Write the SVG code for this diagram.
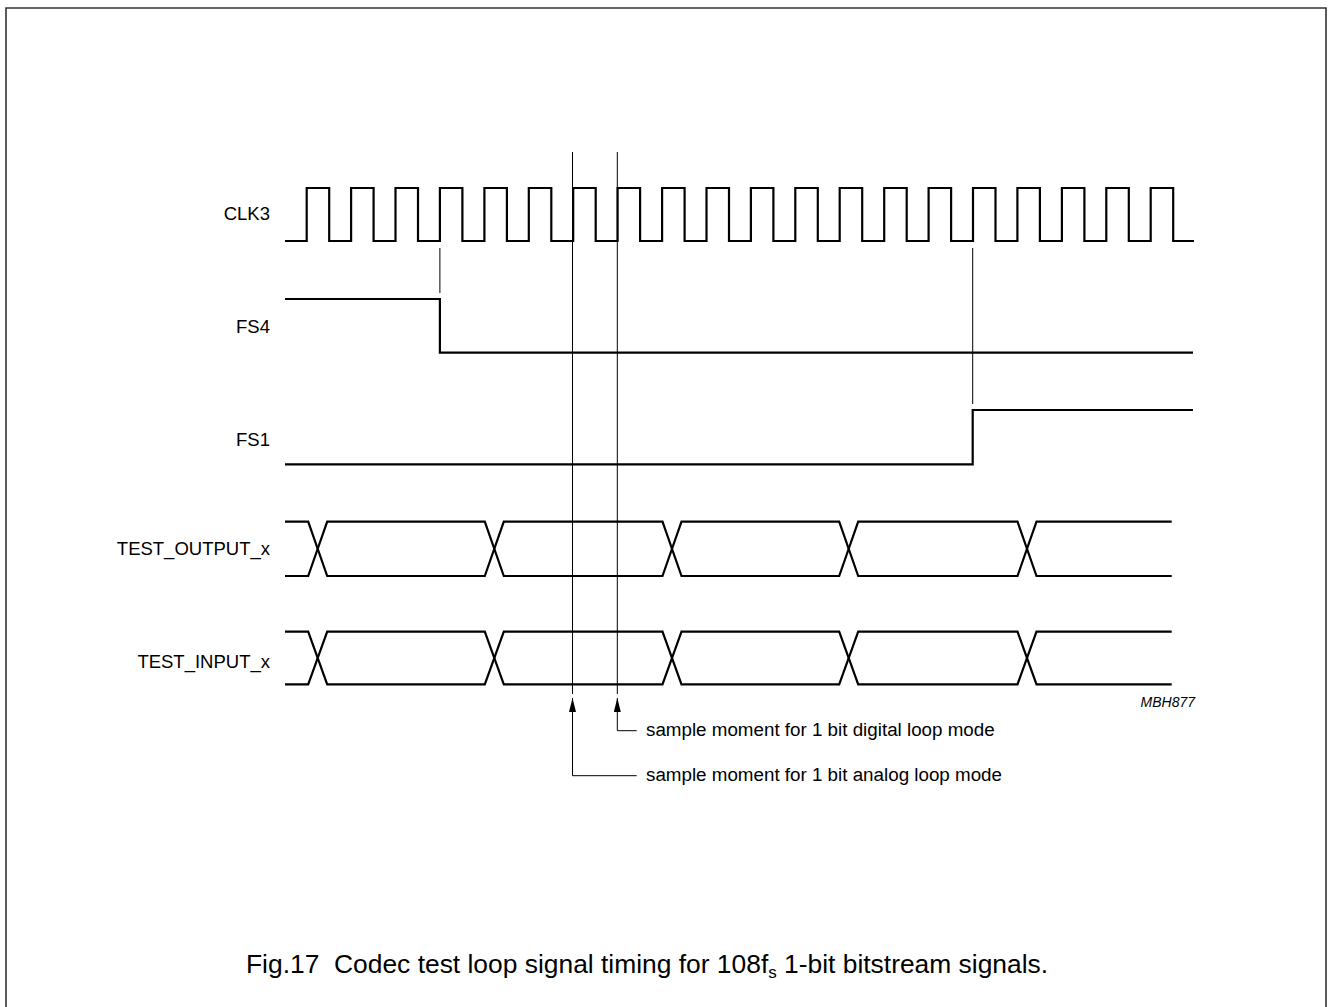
<svg xmlns="http://www.w3.org/2000/svg" width="1330" height="1007" viewBox="0 0 1330 1007">
<defs>
<style>
text{font-family:"Liberation Sans",Arial,sans-serif;fill:#000}
.lbl{font-size:18.5px;text-anchor:end}
.note{font-size:18.8px}
.sig{fill:none;stroke:#000;stroke-width:2.2;stroke-linejoin:miter}
.thin{fill:none;stroke:#000;stroke-width:1}
</style>
<marker id="arr" viewBox="0 0 10 10" refX="10" refY="5" markerWidth="14" markerHeight="7" preserveAspectRatio="none" markerUnits="userSpaceOnUse" orient="auto">
<path d="M0,0 L10,5 L0,10 Z" fill="#000"/>
</marker>
</defs>
<rect width="1330" height="1007" fill="#fff"/>
<path d="M6,1012 V8 H1326 V1012" fill="none" stroke="#333" stroke-width="1.6"/>

<g id="labels">
<text class="lbl" x="270" y="219.5">CLK3</text>
<text class="lbl" x="270" y="333">FS4</text>
<text class="lbl" x="270" y="445.5">FS1</text>
<text class="lbl" x="270" y="555">TEST_OUTPUT_x</text>
<text class="lbl" x="270" y="668">TEST_INPUT_x</text>
</g>

<g id="clk3">
<path class="sig" d="M285,241 H306.7 V188 H329.2 V241 H351.1 V188 H373.6 V241 H395.5 V188 H418 V241 H439.9 V188 H462.4 V241 H484.4 V188 H506.9 V241 H528.8 V188 H551.3 V241 H573.2 V188 H595.7 V241 H617.6 V188 H640.1 V241 H662.1 V188 H684.6 V241 H706.5 V188 H729 V241 H750.9 V188 H773.4 V241 H795.3 V188 H817.8 V241 H839.7 V188 H862.2 V241 H884.2 V188 H906.7 V241 H928.6 V188 H951.1 V241 H973 V188 H995.5 V241 H1017.4 V188 H1039.9 V241 H1061.9 V188 H1084.4 V241 H1106.3 V188 H1128.8 V241 H1150.7 V188 H1173.2 V241 H1194"/>
</g>

<g id="fs4">
<path class="sig" d="M285,299 H439.9 V352.7 H1193"/>
</g>

<g id="fs1">
<path class="sig" d="M285,464.3 H972.7 V410 H1193"/>
</g>

<g id="test_output">
<path class="sig" d="M285,521.7 H308.2 L327.2,576 H484.8 L503.8,521.7 H662.5 L681.5,576 H839.2 L858.2,521.7 H1017.5 L1036.5,576 H1171.7"/>
<path class="sig" d="M285,576 H308.2 L327.2,521.7 H484.8 L503.8,576 H662.5 L681.5,521.7 H839.2 L858.2,576 H1017.5 L1036.5,521.7 H1171.7"/>
</g>

<g id="test_input">
<path class="sig" d="M285,631.7 H308.2 L327.2,684.3 H484.8 L503.8,631.7 H662.5 L681.5,684.3 H839.2 L858.2,631.7 H1017.5 L1036.5,684.3 H1171.7"/>
<path class="sig" d="M285,684.3 H308.2 L327.2,631.7 H484.8 L503.8,684.3 H662.5 L681.5,631.7 H839.2 L858.2,684.3 H1017.5 L1036.5,631.7 H1171.7"/>
</g>

<g id="connectors">
<path class="thin" d="M439.9,248 V293"/>
<path class="thin" d="M972.7,248 V404"/>
<path class="thin" d="M572.5,152 V694"/>
<path class="thin" d="M617.3,152 V694"/>
<path class="thin" d="M636.7,730.7 H617.3 V698" marker-end="url(#arr)"/>
<path class="thin" d="M636.7,775.7 H572.5 V698" marker-end="url(#arr)"/>
</g>

<g id="notes">
<text class="note" x="646" y="736">sample moment for 1 bit digital loop mode</text>
<text class="note" x="646" y="781">sample moment for 1 bit analog loop mode</text>
<text x="1195" y="707" font-size="14" font-style="italic" text-anchor="end">MBH877</text>
</g>

<g id="caption">
<text x="246" y="973" font-size="26.4">Fig.17&#160; Codec test loop signal timing for 108f<tspan font-size="17" dy="5">s</tspan><tspan dy="-5"> 1-bit bitstream signals.</tspan></text>
</g>
</svg>
